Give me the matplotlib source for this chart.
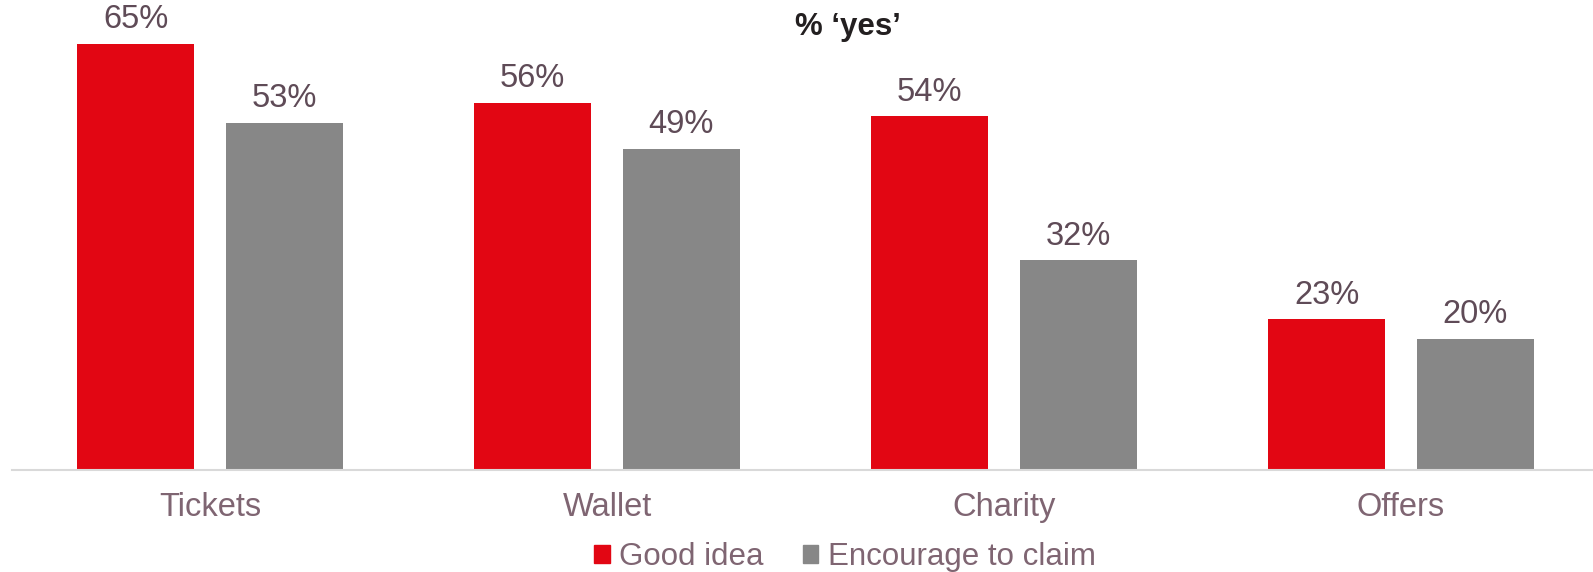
import numpy as np
import matplotlib.pyplot as plt
from matplotlib.patches import Patch

# survey results, % answering yes
categories = ['Tickets', 'Wallet', 'Charity', 'Offers']
good_idea = [65, 56, 54, 23]
encourage = [53, 49, 32, 20]
series_names = ['Good idea', 'Encourage to claim']

RED = '#e20613'
GREY = '#878787'
LABEL_COL = '#5f4b57'
CAT_COL = '#7f6572'

plt.rcParams['font.family'] = ['Liberation Sans', 'DejaVu Sans']

fig = plt.figure(figsize=(15.93, 5.72), dpi=100)
ax = fig.add_axes([11.5 / 1593, 102 / 572, 1581.5 / 1593, 458.8 / 572])

x = np.arange(len(categories))
w = 0.295
off = (w + 0.08) / 2

bars1 = ax.bar(x - off, good_idea, w, color=RED)
bars2 = ax.bar(x + off, encourage, w, color=GREY)

for bars in (bars1, bars2):
    for b in bars:
        ax.text(b.get_x() + b.get_width() / 2, b.get_height() + 1.3,
                f'{b.get_height():.0f}%', ha='center', va='bottom',
                fontsize=23.5, color=LABEL_COL)

ax.set_xlim(-0.5, -0.5 + 1581.5 / 397)
ax.set_ylim(0, 70)
ax.set_xticks(x)
ax.set_xticklabels(categories, fontsize=23.5, color=CAT_COL)
ax.tick_params(axis='x', length=0, pad=16)
ax.set_yticks([])
for s in ['top', 'right', 'left']:
    ax.spines[s].set_visible(False)
ax.spines['bottom'].set_color('#d9d9d9')
ax.spines['bottom'].set_linewidth(1.5)

fig.text(848 / 1593, 1 - 27 / 572, '% \u2018yes\u2019', ha='center', va='center',
         fontsize=22.5, fontweight='bold', color='#231f20')

handles = [Patch(color=RED), Patch(color=GREY)]
fig.legend(handles, series_names, loc='center', ncol=2, frameon=False,
           bbox_to_anchor=(845 / 1593, 1 - 557 / 572), fontsize=22.5,
           handlelength=0.5, handleheight=0.5, handletextpad=0.3,
           columnspacing=1.25, labelcolor=CAT_COL)

fig.savefig('out.png', dpi=100)
